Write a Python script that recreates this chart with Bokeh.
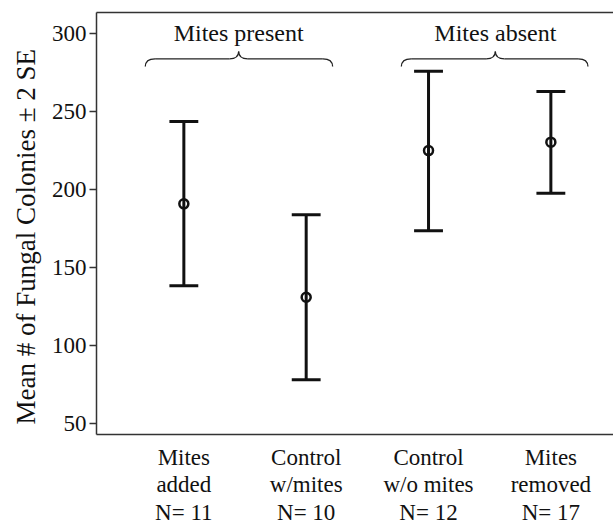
from bokeh.plotting import figure
from bokeh.models import FixedTicker, LinearAxis, Range1d, ColumnDataSource, Title
from bokeh.core.properties import value
from bokeh.embed import file_html
from bokeh.resources import INLINE

# ---- data ----
positions = [1, 2, 3, 4]
tick_labels = ["Mites\nadded", "Control\nw/mites", "Control\nw/o mites", "Mites\nremoved"]
n_values = [11, 10, 12, 17]
means = [190.7, 130.8, 224.9, 230.3]
lower = [138.1, 77.8, 173.4, 197.5]
upper = [243.5, 183.7, 275.8, 262.8]
y_ticks = [50, 100, 150, 200, 250, 300]
group_names = ["Mites present", "Mites absent"]
y_title = "Mean # of Fungal Colonies \u00b1 2 SE"

FONT = "'Liberation Serif', 'Times New Roman', serif"
INK = "#111111"

p = figure(width=613, height=527, output_backend="svg", toolbar_location=None,
           x_range=Range1d(0.286, 4.512), y_range=Range1d(42.7, 313.5),
           min_border_left=94, min_border_right=0, min_border_top=12, min_border_bottom=93)
p.outline_line_color = None
p.outline_line_width = 0
p.xgrid.visible = False
p.ygrid.visible = False
p.background_fill_color = "white"
p.border_fill_color = "white"

# y axis
ya = p.yaxis[0]
ya.ticker = FixedTicker(ticks=y_ticks)
ya.minor_tick_line_color = None
ya.major_tick_in = 0
ya.major_tick_out = 7
ya.major_tick_line_width = 1.5
ya.major_tick_line_color = "#333333"
ya.axis_line_color = "#333333"
ya.axis_line_width = 1.5
ya.major_label_text_font = FONT
ya.major_label_text_font_size = "23px"
ya.major_label_text_color = INK
ya.major_label_standoff = 3

# y title
p.add_layout(Title(text=y_title, align="left", offset=10, standoff=16,
                   text_font=FONT, text_font_size="27px", text_font_style="normal",
                   text_color=INK), "left")

# x axis
xa = p.xaxis[0]
xa.ticker = FixedTicker(ticks=positions)
xa.major_label_overrides = {pos: f"{lab}\nN= {n}" for pos, lab, n in zip(positions, tick_labels, n_values)}
xa.minor_tick_line_color = None
xa.major_tick_line_color = None
xa.major_tick_in = 0
xa.major_tick_out = 0
xa.axis_line_color = "#333333"
xa.axis_line_width = 1.5
xa.major_label_text_font = FONT
xa.major_label_text_font_size = "23px"
xa.major_label_text_color = INK
xa.major_label_text_line_height = 1.1
xa.major_label_standoff = 10

# top frame line
top = LinearAxis(ticker=FixedTicker(ticks=[]), major_label_text_font_size="0px",
                 axis_line_color="#333333", axis_line_width=1.5,
                 major_tick_line_color=None, minor_tick_line_color=None)
p.add_layout(top, "above")

# error bars
src = ColumnDataSource(dict(x=positions, m=means, lo=lower, hi=upper))
p.segment(x0="x", y0="lo", x1="x", y1="hi", source=src, line_width=3, line_color=INK)
cap = 0.118
p.segment(x0=[x - cap for x in positions], y0=upper, x1=[x + cap for x in positions], y1=upper,
          line_width=3, line_color=INK)
p.segment(x0=[x - cap for x in positions], y0=lower, x1=[x + cap for x in positions], y1=lower,
          line_width=3, line_color=INK)
p.scatter(x="x", y="m", source=src, marker="circle", size=9, fill_color=None,
          line_color=INK, line_width=2.5)

# group braces (annotation geometry)
braces = [(0.685, 2.216, 1.448), (2.778, 4.303, 3.546)]
ye, yh, yt = 278.8, 283.8, 288.5
e, t = 0.08, 0.075
qx0, qy0, qx1, qy1, qcx, qcy = [], [], [], [], [], []
sx0, sx1 = [], []
for L, R, T in braces:
    qx0 += [L, T - t, T, R - e]
    qy0 += [ye, yh, yt, yh]
    qx1 += [L + e, T, T + t, R]
    qy1 += [yh, yt, yh, ye]
    qcx += [L, T, T, R]
    qcy += [yh, yh, yh, yh]
    sx0 += [L + e, T + t]
    sx1 += [T - t, R - e]
p.quadratic(x0=qx0, y0=qy0, x1=qx1, y1=qy1, cx=qcx, cy=qcy, line_color="#222222", line_width=1.3)
p.segment(x0=sx0, y0=[yh] * len(sx0), x1=sx1, y1=[yh] * len(sx1), line_color="#222222", line_width=1.3)
p.text(x=[b[2] for b in braces], y=[300.5, 300.5], text=group_names,
       text_font=value(FONT), text_font_size="24px", text_color=INK,
       text_align="center", text_baseline="alphabetic")

open("out.html", "w").write(file_html(p, INLINE))
